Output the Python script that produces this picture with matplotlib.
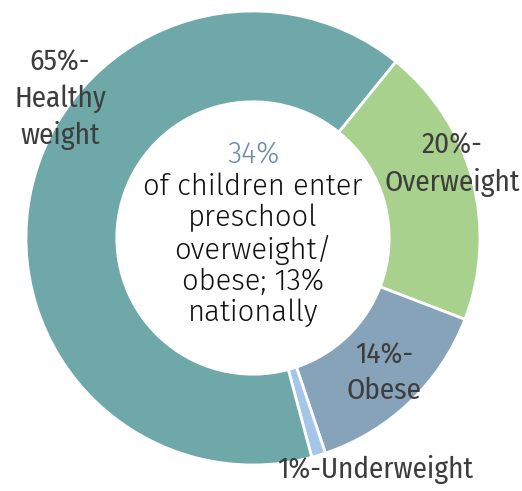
import matplotlib
matplotlib.use('Agg')
import matplotlib.pyplot as plt

# slices, clockwise from the top-right
labels = ['20%-\nOverweight', '14%-\nObese', '1%-Underweight', '65%-\nHealthy\nweight']
shares = [20, 14, 1, 65]
colors = ['#a8d18e', '#87a3b9', '#a3c6e9', '#6fa8a8']

W, H = 522, 491
fig = plt.figure(figsize=(W / 100, H / 100), dpi=100)
ax = fig.add_axes([0, 0, 1, 1])

cx, cy, r = 253, H - 238, 227
ax.pie(shares, colors=colors, startangle=51, counterclock=False,
       center=(cx, cy), radius=r,
       wedgeprops=dict(width=r * 0.4, edgecolor='white', linewidth=2))
ax.set_xlim(0, W)
ax.set_ylim(0, H)
ax.set_aspect('equal')
ax.axis('off')

lab_font = ['Fira Sans Condensed', 'DejaVu Sans']
lab_pos = [(452, 164), (384, 373), (375, 469), (60, 99)]
for txt, (x, y) in zip(labels, lab_pos):
    ax.text(x, H - y, txt, ha='center', va='center', fontsize=21,
            color='#3d3d3d', family=lab_font, linespacing=1.35)

# centre note
ax.text(253, H - 154, '34%', ha='center', va='center', fontsize=21,
        color='#6b8bab', family=['Fira Sans', 'DejaVu Sans'], fontweight=300)
ax.text(253, H - 250, 'of children enter\npreschool\noverweight/\nobese; 13%\nnationally',
        ha='center', va='center', fontsize=21, color='#111111',
        family=['Fira Sans', 'DejaVu Sans'], fontweight=300, linespacing=1.12)

fig.savefig('out.png', dpi=100)
